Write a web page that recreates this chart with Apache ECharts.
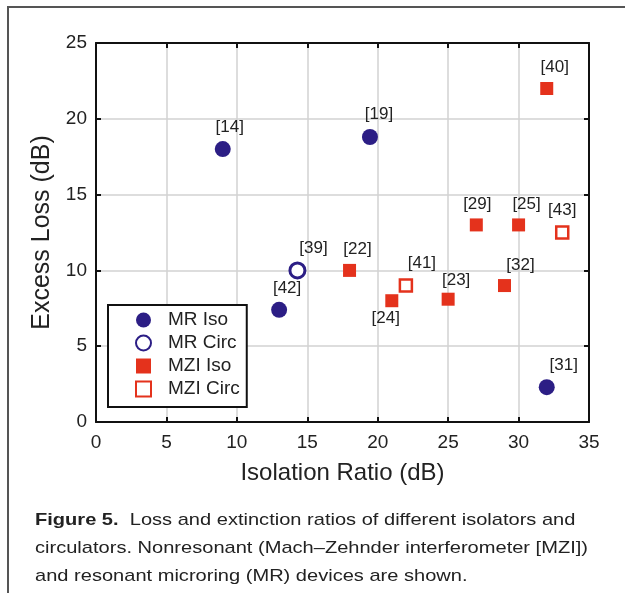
<!DOCTYPE html>
<html>
<head>
<meta charset="utf-8">
<script src="https://cdn.jsdelivr.net/npm/echarts@6/dist/echarts.min.js"></script>
<style>
  html, body { margin: 0; padding: 0; background: #fff; }
  #chart { width: 625px; height: 593px; }
</style>
</head>
<body>
<div id="chart"></div>
<script>
// Isolation ratio (dB), excess loss (dB) and reference tag per device class
const mrIsoX   = [9, 19.45, 13, 32];
const mrIsoY   = [18, 18.8, 7.4, 2.3];
const mrIsoRef = ['[14]', '[19]', '[42]', '[31]'];

const mrCircX   = [14.3];
const mrCircY   = [10];
const mrCircRef = ['[39]'];

const mziIsoX   = [18, 21, 25, 29, 27, 30, 32];
const mziIsoY   = [10, 8, 8.1, 9, 13, 13, 22];
const mziIsoRef = ['[22]', '[24]', '[23]', '[32]', '[29]', '[25]', '[40]'];

const mziCircX   = [22, 33.1];
const mziCircY   = [9, 12.5];
const mziCircRef = ['[41]', '[43]'];

const xTicks = [0, 5, 10, 15, 20, 25, 30, 35];
const yTicks = [0, 5, 10, 15, 20, 25];

// Label placement tweaks (pixel offsets from the default spot)
const labelPlacement = {
  '[14]': { pos: 'top', off: [7, 0] },
  '[19]': { pos: 'top', off: [9, -1] },
  '[42]': { pos: 'top', off: [8, 0] },
  '[31]': { pos: 'top', off: [17, 0] },
  '[39]': { pos: 'top', off: [16, 0] },
  '[22]': { pos: 'top', off: [8, -1] },
  '[24]': { pos: 'bottom', off: [-6, -2] },
  '[23]': { pos: 'top', off: [8, 1] },
  '[32]': { pos: 'top', off: [16, 0] },
  '[29]': { pos: 'top', off: [1, -1] },
  '[25]': { pos: 'top', off: [8, -1] },
  '[40]': { pos: 'top', off: [8, -1] },
  '[41]': { pos: 'top', off: [16, -1] },
  '[43]': { pos: 'top', off: [0, -1] }
};

const NAVY = '#2c1e85';
const RED = '#e4321c';
const INK = '#222';
const FONT = '"Liberation Sans", Arial, Helvetica, sans-serif';

function points(xs, ys, refs) {
  return xs.map((x, i) => {
    const p = labelPlacement[refs[i]] || { pos: 'top', off: [0, 0] };
    return {
      value: [x, ys[i]],
      name: refs[i],
      label: { position: p.pos, offset: p.off }
    };
  });
}

const labelStyle = {
  show: true,
  formatter: '{b}',
  color: INK,
  fontSize: 17,
  fontFamily: FONT,
  distance: 5
};

const chart = echarts.init(document.getElementById('chart'), null, { renderer: 'canvas' });

const axisCommon = {
  min: 0,
  axisLine: { show: true, onZero: false, lineStyle: { color: '#111', width: 2 } },
  axisTick: { show: true, inside: true, length: 5, lineStyle: { color: '#111', width: 2 } },
  splitLine: { show: false }
};

chart.setOption({
  animation: false,
  backgroundColor: '#fff',
  textStyle: { fontFamily: FONT },
  grid: { left: 96, right: 36, top: 43, bottom: 171, containLabel: false },
  xAxis: [
    Object.assign({}, axisCommon, {
      type: 'value', position: 'bottom', max: 35, interval: 5,
      name: 'Isolation Ratio (dB)', nameLocation: 'middle', nameGap: 39,
      nameTextStyle: { fontSize: 24, color: INK, fontFamily: FONT },
      axisLabel: {
        color: INK, fontSize: 19, margin: 11, fontFamily: FONT,
        formatter: v => (xTicks.includes(v) ? String(v) : '')
      },
      splitLine: { show: true, lineStyle: { color: '#d2d2d2', width: 1.5 } }
    }),
    Object.assign({}, axisCommon, {
      type: 'value', position: 'top', max: 35, interval: 5,
      axisLabel: { show: false }
    })
  ],
  yAxis: [
    Object.assign({}, axisCommon, {
      type: 'value', position: 'left', max: 25, interval: 5,
      name: 'Excess Loss (dB)', nameLocation: 'middle', nameGap: 37, nameRotate: 90,
      nameTextStyle: { fontSize: 25, color: INK, fontFamily: FONT },
      axisLabel: {
        color: INK, fontSize: 19, margin: 9, fontFamily: FONT,
        formatter: v => (yTicks.includes(v) ? String(v) : '')
      },
      splitLine: { show: true, lineStyle: { color: '#d2d2d2', width: 1.5 } }
    }),
    Object.assign({}, axisCommon, {
      type: 'value', position: 'right', max: 25, interval: 5,
      axisLabel: { show: false }
    })
  ],
  legend: {
    left: 108, top: 305,
    orient: 'vertical',
    backgroundColor: '#fff',
    borderColor: '#111', borderWidth: 2,
    padding: [5, 7, 8, 27],
    itemGap: 3,
    itemWidth: 15, itemHeight: 15,
    textStyle: { fontSize: 19, lineHeight: 20, color: INK, fontFamily: FONT, padding: [0, 0, 0, 12] },
    data: [
      { name: 'MR Iso', icon: 'circle' },
      { name: 'MR Circ', icon: 'circle' },
      { name: 'MZI Iso', icon: 'rect' },
      { name: 'MZI Circ', icon: 'rect' }
    ]
  },
  series: [
    {
      name: 'MR Iso', type: 'scatter', symbol: 'circle', symbolSize: 16,
      itemStyle: { color: NAVY, opacity: 1 },
      label: labelStyle,
      data: points(mrIsoX, mrIsoY, mrIsoRef)
    },
    {
      name: 'MR Circ', type: 'scatter', symbol: 'circle', symbolSize: 15,
      itemStyle: { color: '#fff', borderColor: NAVY, borderWidth: 3, opacity: 1 },
      label: labelStyle,
      data: points(mrCircX, mrCircY, mrCircRef)
    },
    {
      name: 'MZI Iso', type: 'scatter', symbol: 'rect', symbolSize: 13,
      itemStyle: { color: RED, opacity: 1 },
      label: labelStyle,
      data: points(mziIsoX, mziIsoY, mziIsoRef)
    },
    {
      name: 'MZI Circ', type: 'scatter', symbol: 'rect', symbolSize: 12,
      itemStyle: { color: '#fff', borderColor: RED, borderWidth: 2.5, opacity: 1 },
      label: labelStyle,
      data: points(mziCircX, mziCircY, mziCircRef)
    }
  ],
  graphic: [
    // figure frame
    { type: 'polyline', silent: true,
      shape: { points: [[8, 593], [8, 7], [625, 7]] },
      style: { stroke: '#555', lineWidth: 2, fill: null } },
    // caption
    { type: 'text', x: 35, y: 506, scaleX: 1.18, silent: true,
      style: {
        text: '{b|Figure 5.}  Loss and extinction ratios of different isolators and\n' +
              'circulators. Nonresonant (Mach\u2013Zehnder interferometer [MZI])\n' +
              'and resonant microring (MR) devices are shown.',
        font: '17px ' + FONT,
        fill: INK,
        lineHeight: 28,
        rich: { b: { font: 'bold 17px ' + FONT, fill: INK } }
      } }
  ]
});
</script>
</body>
</html>
